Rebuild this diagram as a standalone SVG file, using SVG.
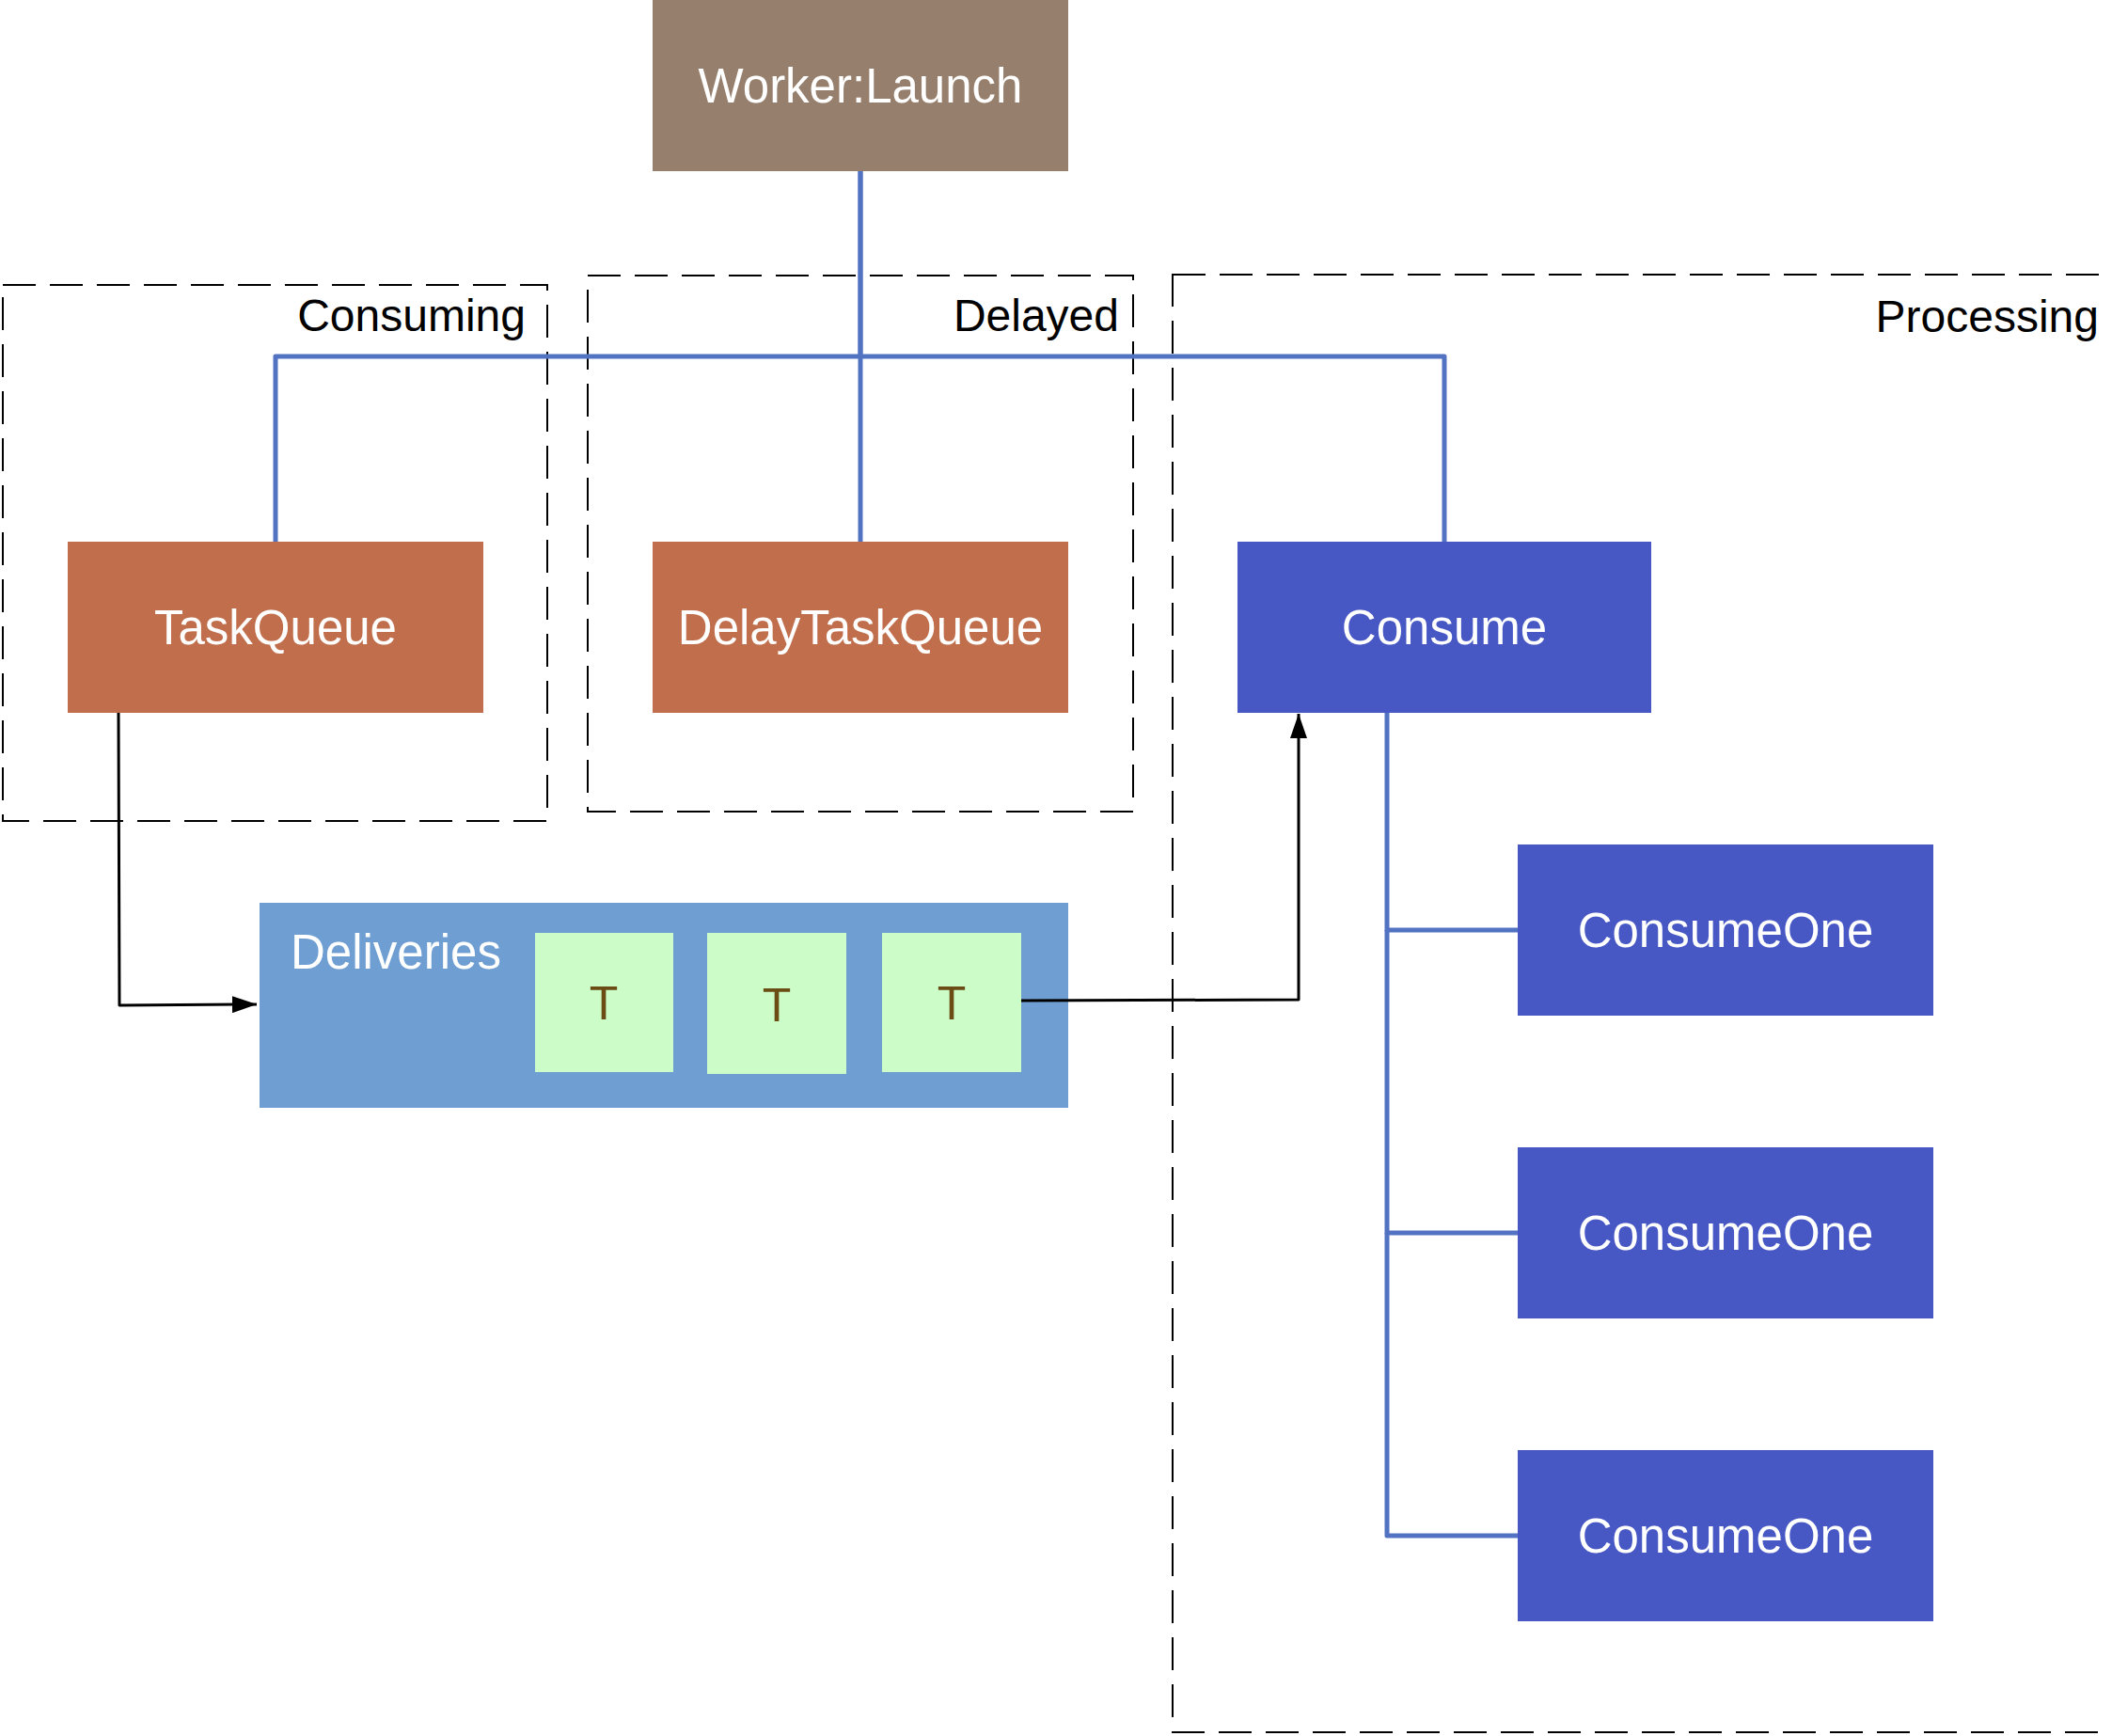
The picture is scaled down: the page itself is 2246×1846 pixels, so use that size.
<svg xmlns="http://www.w3.org/2000/svg" width="2246" height="1846" viewBox="0 0 2246 1846">
  <style>
    .grp { fill: none; stroke: #000; stroke-width: 2; stroke-dasharray: 35 15; }
    .glbl { font-family: "Liberation Sans", Arial, sans-serif; font-size: 48px; fill: #000; text-anchor: end; }
    .nlbl { font-family: "Liberation Sans", Arial, sans-serif; font-size: 51px; fill: #fff; text-anchor: middle; }
    .tlbl { font-family: "Liberation Sans", Arial, sans-serif; font-size: 50px; fill: #6B4C14; text-anchor: middle; }
    .tree { fill: none; stroke: #5273C2; stroke-width: 5; stroke-linejoin: round; }
    .flow { fill: none; stroke: #000; stroke-width: 3; stroke-linejoin: round; }
  </style>
  <defs>
    <marker id="arrow" markerUnits="userSpaceOnUse" markerWidth="26" markerHeight="18" refX="26" refY="9" orient="auto">
      <path d="M0,0 L26,9 L0,18 z" fill="#000"/>
    </marker>
  </defs>
  <rect width="2246" height="1846" fill="#fff"/>

  <g id="group-consuming">
    <rect class="grp" x="3" y="303" width="579" height="570"/>
    <text class="glbl" x="559" y="352">Consuming</text>
  </g>
  <g id="group-delayed">
    <rect class="grp" x="625" y="293" width="580" height="570"/>
    <text class="glbl" x="1190" y="352">Delayed</text>
  </g>
  <g id="group-processing">
    <rect class="grp" x="1247" y="292" width="1992" height="1550"/>
    <text class="glbl" x="2232" y="353">Processing</text>
  </g>

  <g id="node-worker-launch">
    <rect x="694" y="0" width="442" height="182" fill="#967F6C"/>
    <text class="nlbl" x="915" y="109">Worker:Launch</text>
  </g>
  <g id="node-taskqueue">
    <rect x="72" y="576" width="442" height="182" fill="#C06E4C"/>
    <text class="nlbl" x="293" y="685">TaskQueue</text>
  </g>
  <g id="node-delaytaskqueue">
    <rect x="694" y="576" width="442" height="182" fill="#C06E4C"/>
    <text class="nlbl" x="915" y="685">DelayTaskQueue</text>
  </g>
  <g id="node-consume">
    <rect x="1316" y="576" width="440" height="182" fill="#4758C5"/>
    <text class="nlbl" x="1536" y="685">Consume</text>
  </g>
  <g id="node-consumeone-1">
    <rect x="1614" y="898" width="442" height="182" fill="#4758C5"/>
    <text class="nlbl" x="1835" y="1007">ConsumeOne</text>
  </g>
  <g id="node-consumeone-2">
    <rect x="1614" y="1220" width="442" height="182" fill="#4758C5"/>
    <text class="nlbl" x="1835" y="1329">ConsumeOne</text>
  </g>
  <g id="node-consumeone-3">
    <rect x="1614" y="1542" width="442" height="182" fill="#4758C5"/>
    <text class="nlbl" x="1835" y="1651">ConsumeOne</text>
  </g>

  <g id="node-deliveries">
    <rect x="276" y="960" width="860" height="218" fill="#6F9ED2"/>
    <text x="309" y="1030" font-family="Liberation Sans, Arial, sans-serif" font-size="51" fill="#fff">Deliveries</text>
  </g>
  <g id="node-t1">
    <rect x="569" y="992" width="147" height="148" fill="#CCFCC7"/>
    <text class="tlbl" x="642" y="1084">T</text>
  </g>
  <g id="node-t2">
    <rect x="752" y="992" width="148" height="150" fill="#CCFCC7"/>
    <text class="tlbl" x="826" y="1086">T</text>
  </g>
  <g id="node-t3">
    <rect x="938" y="992" width="148" height="148" fill="#CCFCC7"/>
    <text class="tlbl" x="1012" y="1084">T</text>
  </g>

  <g id="connectors">
    <path class="tree" d="M915 182 V379 H293 V576"/>
    <path class="tree" d="M915 182 V576"/>
    <path class="tree" d="M915 379 H1536 V576"/>
    <path class="tree" d="M1475 758 V989 H1614"/>
    <path class="tree" d="M1475 989 V1311 H1614"/>
    <path class="tree" d="M1475 1311 V1633 H1614"/>
    <path class="flow" d="M126 758 L127 1069 L273 1068" marker-end="url(#arrow)"/>
    <path class="flow" d="M1086 1064 L1381 1063 L1381 759" marker-end="url(#arrow)"/>
  </g>
</svg>
